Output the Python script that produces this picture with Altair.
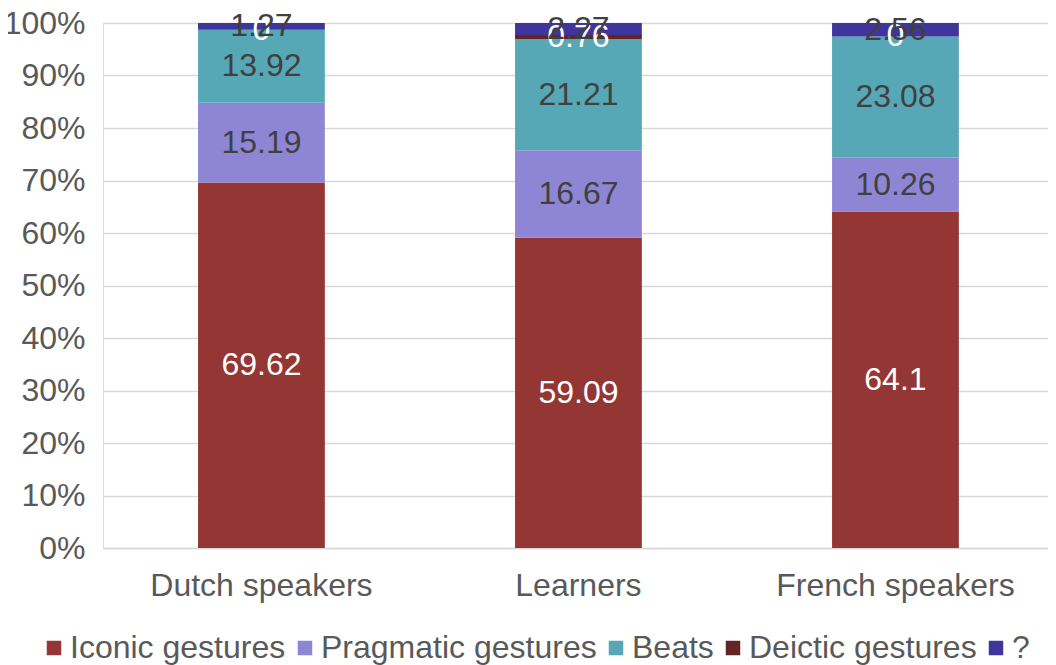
import altair as alt
import pandas as pd

groups = ["Dutch speakers", "Learners", "French speakers"]
series = ["Iconic gestures", "Pragmatic gestures", "Beats", "Deictic gestures", "?"]
iconic = [69.62, 59.09, 64.1]
pragmatic = [15.19, 16.67, 10.26]
beats = [13.92, 21.21, 23.08]
deictic = [0, 0.76, 0]
unknown = [1.27, 2.27, 2.56]
colors = ["#943634", "#8E86D4", "#57A8B6", "#632523", "#40359C"]

vals = [iconic, pragmatic, beats, deictic, unknown]
rows = []
for si, s in enumerate(series):
    for gi, g in enumerate(groups):
        rows.append({"group": g, "series": s, "value": vals[si][gi], "ord": si,
                     "label": f"{vals[si][gi]:g}"})
df = pd.DataFrame(rows)

FONT = "Liberation Sans"

base = alt.Chart(df).transform_stack(
    stack="value", groupby=["group"], sort=[alt.SortField("ord", order="ascending")],
    as_=["y0", "y1"]
).transform_calculate(mid="(datum.y0 + datum.y1) / 2")

xenc = alt.X("group:N", sort=groups, title=None,
             scale=alt.Scale(paddingInner=0.6, paddingOuter=0.2905, align=0.516),
             axis=alt.Axis(labelAngle=0, labelFontSize=32, labelColor="#595959",
                           labelFont=FONT, ticks=False, domainColor="#d9d9d9",
                           domainWidth=1.5, labelPadding=22, grid=False,
                           labelLimit=500))

bars = base.mark_bar().encode(
    x=xenc,
    y=alt.Y("y0:Q", scale=alt.Scale(domain=[0, 100]), title=None,
            axis=alt.Axis(values=list(range(0, 101, 10)), labelExpr="datum.value + '%'",
                          labelFontSize=32, labelColor="#595959", labelFont=FONT,
                          ticks=False, domain=False, gridColor="#d9d9d9",
                          gridWidth=1.5, labelPadding=18)),
    y2="y1:Q",
    color=alt.Color("series:N", sort=series,
                    scale=alt.Scale(domain=series, range=colors),
                    legend=alt.Legend(orient="none", legendX=-65, legendY=609,
                                      direction="horizontal", title=None,
                                      symbolType="square", symbolSize=210,
                                      symbolStrokeWidth=0, labelFontSize=32,
                                      labelFont=FONT, labelColor="#595959",
                                      labelLimit=500, labelOffset=0,
                                      columnPadding=3, padding=0)),
    order=alt.Order("ord:Q"),
)

labels = base.mark_text(font=FONT, fontSize=32, baseline="middle", align="center").encode(
    x=alt.X("group:N", sort=groups),
    y=alt.Y("mid:Q"),
    text="label:N",
    color=alt.condition(
        "datum.series == 'Iconic gestures' || datum.series == 'Deictic gestures'",
        alt.value("#ffffff"), alt.value("#404040")),
    order=alt.Order("ord:Q"),
)

chart = alt.layer(bars, labels).properties(
    width=945, height=525,
    autosize=alt.AutoSizeParams(type="none"),
    padding={"left": 95, "top": 15, "right": 0, "bottom": 117},
).configure_view(stroke=None).configure(background="white")

chart.save("out.html", embed_options={"renderer": "svg", "actions": False})
